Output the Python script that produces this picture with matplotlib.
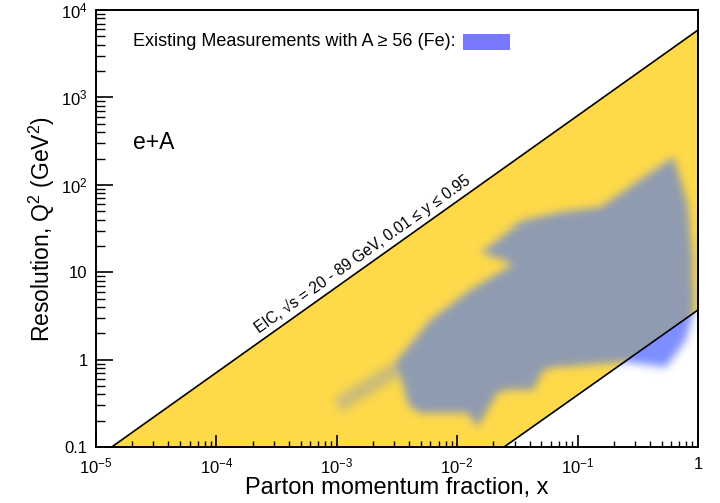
import numpy as np
import matplotlib
matplotlib.use("Agg")
import matplotlib.pyplot as plt
import matplotlib.ticker as mticker
from matplotlib.patches import Polygon, Rectangle
from matplotlib.path import Path
from matplotlib.image import AxesImage
from matplotlib.colors import to_rgb

plt.rcParams["font.family"] = ["Liberation Sans", "DejaVu Sans"]
plt.rcParams["mathtext.fontset"] = "custom"
plt.rcParams["mathtext.rm"] = "Liberation Sans"
plt.rcParams["mathtext.it"] = "Liberation Sans:italic"
plt.rcParams["mathtext.bf"] = "Liberation Sans:bold"

# ── data ───────────────────────────────────────────────────
# EIC kinematic limits (upper: y = 0.95 at 89 GeV, lower: y = 0.01 at 20 GeV)
x_hi = [1.35e-5, 1.0]
q2_hi = [0.1, 5900.0]
x_lo = [0.0245, 1.0]
q2_lo = [0.1, 3.7]

# existing fixed-target measurements (A >= 56), main outline
meas_x = [3.08e-3, 6.0e-3, 0.0129, 0.0294, 0.0157, 0.0217, 0.0337,
          0.0724, 0.156, 0.336, 0.631, 0.826, 0.908, 0.926, 0.794, 0.542,
          0.252, 0.0565, 0.0494, 0.0432, 0.0253, 0.0217, 0.0148, 0.0122,
          4.97e-3, 3.94e-3, 3.38e-3]
meas_q2 = [0.94, 2.84, 6.3, 12.4, 17.0, 23.4, 37.5,
           47.6, 54.3, 113.0, 203.0, 58.7, 13.8, 3.69, 1.67, 0.82,
           0.94, 0.80, 0.667, 0.449, 0.449, 0.415, 0.17, 0.245,
           0.245, 0.303, 0.667]
# faint low-x tail
tail_x = [9.5e-4, 3.08e-3, 3.38e-3, 1.1e-3]
tail_q2 = [0.36, 0.98, 0.64, 0.25]

x_ticks = [1e-5, 1e-4, 1e-3, 1e-2, 1e-1, 1]
x_labels = [r"$10^{-5}$", r"$10^{-4}$", r"$10^{-3}$", r"$10^{-2}$", r"$10^{-1}$", "1"]
y_ticks = [0.1, 1, 10, 100, 1000, 10000]
y_labels = ["0.1", "1", "10", r"$10^{2}$", r"$10^{3}$", r"$10^{4}$"]

YELLOW = "#fed94a"
GREY = "#8f9bb2"
BLUE = "#7d8eff"
SWATCH = "#7777ff"

fig = plt.figure(figsize=(7.2, 5.03), dpi=100)
ax = fig.add_axes([0.1333, 0.1113, 0.8361, 0.8688])
ax.set_xscale("log")
ax.set_yscale("log")
ax.set_xlim(1e-5, 1)
ax.set_ylim(0.1, 1e4)

# ── EIC band ──────────────────────────────────────────────
band_x = x_hi + x_lo[::-1]
band_q2 = q2_hi + q2_lo[::-1]
band = Polygon(np.column_stack([band_x, band_q2]), closed=True,
               facecolor=YELLOW, edgecolor="none", transform=ax.transData, zorder=1)
ax.add_patch(band)

below = Polygon(np.column_stack([x_lo + [1.0], q2_lo + [0.1]]), closed=True,
                facecolor="none", edgecolor="none", transform=ax.transData)
ax.add_patch(below)

# ── blurred measurement region (rasterised on the axes pixel grid) ──
fig.canvas.draw()
bb = ax.bbox
W, H = int(round(bb.width)), int(round(bb.height))
PX, PY = np.meshgrid(bb.x0 + np.arange(W) + 0.5, bb.y0 + np.arange(H) + 0.5)
pix = np.column_stack([PX.ravel(), PY.ravel()])


def mask_of(xs, ys):
    verts = ax.transData.transform(np.column_stack([xs, ys]))
    return Path(verts).contains_points(pix).reshape(H, W).astype(float)


def blur(a, s):
    r = int(3 * s)
    k = np.exp(-0.5 * (np.arange(-r, r + 1) / s) ** 2)
    k /= k.sum()
    a = np.apply_along_axis(lambda v: np.convolve(v, k, mode="same"), 0, a)
    return np.apply_along_axis(lambda v: np.convolve(v, k, mode="same"), 1, a)


soft = blur(np.maximum(mask_of(meas_x, meas_q2), 0.45 * mask_of(tail_x, tail_q2)), 4.3)


def add_soft(color, clip):
    rgba = np.zeros((H, W, 4))
    rgba[..., :3] = to_rgb(color)
    rgba[..., 3] = np.clip(soft, 0, 1)
    im = AxesImage(ax, extent=(0, 1, 0, 1), origin="lower", interpolation="nearest", zorder=2)
    im.set_data(rgba)
    im.set_transform(ax.transAxes)
    ax.add_image(im)
    im.set_clip_path(clip)


add_soft(GREY, band)
add_soft(BLUE, below)

ax.plot(x_hi, q2_hi, color="black", lw=1.2, zorder=4)
ax.plot(x_lo, q2_lo, color="black", lw=1.2, zorder=4)


def fit_width(t, width_px):
    rot = t.get_rotation()
    t.set_rotation(0)
    fig.canvas.draw()
    w = t.get_window_extent().width
    t.set_fontsize(t.get_fontsize() * width_px / w)
    t.set_rotation(rot)


# label along the upper line
p0 = ax.transData.transform((x_hi[0], q2_hi[0]))
p1 = ax.transData.transform((x_hi[1], q2_hi[1]))
ang = np.degrees(np.arctan2(p1[1] - p0[1], p1[0] - p0[0]))
slope = np.log(q2_hi[1] / q2_hi[0]) / np.log(x_hi[1] / x_hi[0])
lx = 2.45e-4
ly = q2_hi[0] * (lx / x_hi[0]) ** slope
eic = ax.annotate("EIC, \u221as = 20 - 89 GeV, 0.01 \u2264 y \u2264 0.95", xy=(lx, ly),
                  xytext=(-1.5, 2.5), textcoords="offset points",
                  rotation=ang, rotation_mode="anchor", ha="left", va="bottom",
                  fontsize=10, zorder=5)

# legend-like header
hdr = ax.text(0.0615, 0.927, "Existing Measurements with A \u2265 56 (Fe):",
              transform=ax.transAxes, fontsize=12, va="center", ha="left")
ax.add_patch(Rectangle((0.61, 0.908), 0.078, 0.037, transform=ax.transAxes,
                       facecolor=SWATCH, edgecolor="none", zorder=5))
ax.text(0.0615, 0.696, "e+A", transform=ax.transAxes, fontsize=16.5, va="center", ha="left")

# ── axes styling ──────────────────────────────────────────
ax.xaxis.set_major_locator(mticker.FixedLocator(x_ticks))
ax.xaxis.set_major_formatter(mticker.FixedFormatter(x_labels))
ax.yaxis.set_major_locator(mticker.FixedLocator(y_ticks))
ax.yaxis.set_major_formatter(mticker.FixedFormatter(y_labels))
ax.xaxis.set_minor_locator(mticker.LogLocator(base=10, subs=np.arange(2, 10), numticks=20))
ax.yaxis.set_minor_locator(mticker.LogLocator(base=10, subs=np.arange(2, 10), numticks=20))
ax.xaxis.set_minor_formatter(mticker.NullFormatter())
ax.yaxis.set_minor_formatter(mticker.NullFormatter())

ax.tick_params(axis="x", which="major", direction="in", length=8.5, width=1.2,
               labelsize=12, pad=7, top=False)
ax.tick_params(axis="x", which="minor", direction="in", length=4.5, width=1.0, top=False)
ax.tick_params(axis="y", which="major", direction="in", length=12, width=1.2,
               labelsize=12, pad=6, right=False)
ax.tick_params(axis="y", which="minor", direction="in", length=6.5, width=1.0, right=False)
for s in ax.spines.values():
    s.set_linewidth(1.4)
    s.set_zorder(6)

ax.set_xlabel("Parton momentum fraction, x", fontsize=17, labelpad=0)
ax.set_ylabel(r"Resolution, Q$^{2}$ (GeV$^{2}$)", fontsize=16.5, labelpad=3)

fit_width(hdr, 322)
fit_width(eic, 262)

fig.savefig("out.png", dpi=100)
